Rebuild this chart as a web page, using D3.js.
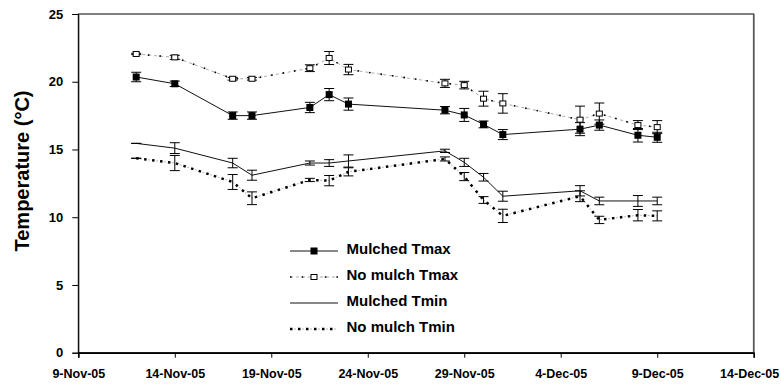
<!DOCTYPE html>
<html>
<head>
<meta charset="utf-8">
<script src="https://cdn.jsdelivr.net/npm/d3@7"></script>
<style>
  body { margin: 0; background: #fff; }
  text { font-family: "Liberation Sans", Arial, sans-serif; font-weight: bold; fill: #000; }
</style>
</head>
<body>
<div id="chart"></div>
<script>
// dates of readings
var dates = ["12-Nov-05","14-Nov-05","17-Nov-05","18-Nov-05","21-Nov-05","22-Nov-05","23-Nov-05",
  "28-Nov-05","29-Nov-05","30-Nov-05","1-Dec-05","5-Dec-05","6-Dec-05","8-Dec-05","9-Dec-05"]

var mulchedTmax    = [20.35, 19.85, 17.5, 17.5, 18.1, 19.05, 18.35, 17.9, 17.55, 16.85, 16.1, 16.5, 16.8, 16.05, 15.9]
var mulchedTmaxErr = [0.35, 0.2, 0.27, 0.27, 0.38, 0.45, 0.45, 0.27, 0.48, 0.25, 0.37, 0.48, 0.38, 0.5, 0.37]

var noMulchTmax    = [22.05, 21.8, 20.22, 20.22, 21.0, 21.75, 20.9, 19.88, 19.75, 18.75, 18.4, 17.2, 17.65, 16.8, 16.65]
var noMulchTmaxErr = [0.05, 0.15, 0.1, 0.1, 0.25, 0.48, 0.38, 0.3, 0.28, 0.55, 0.72, 1.0, 0.78, 0.33, 0.48]

var mulchedTmin    = [15.45, 15.1, 14.0, 13.1, 14.0, 14.0, 14.15, 14.9, 14.05, 12.95, 11.55, 11.95, 11.2, 11.2, 11.2]
var mulchedTminErr = [0, 0.4, 0.35, 0.37, 0.15, 0.25, 0.45, 0.12, 0.3, 0.28, 0.37, 0.38, 0.28, 0.4, 0.28]

var noMulchTmin    = [14.35, 14.0, 12.6, 11.4, 12.75, 12.7, 13.35, 14.3, 13.0, 11.27, 10.1, 11.55, 9.8, 10.15, 10.1]
var noMulchTminErr = [0, 0.56, 0.55, 0.47, 0.12, 0.38, 0.3, 0.15, 0.3, 0.25, 0.49, 0.4, 0.27, 0.42, 0.37]

var xTickLabels = ["9-Nov-05","14-Nov-05","19-Nov-05","24-Nov-05","29-Nov-05","4-Dec-05","9-Dec-05","14-Dec-05"]
var yTicks = [0, 5, 10, 15, 20, 25]

var legendNames = ["Mulched Tmax", "No mulch Tmax", "Mulched Tmin", "No mulch Tmin"]

var parse = d3.timeParse("%d-%b-%y")

var width = 781
var height = 385
var margin = {top: 14, bottom: 32.3, left: 78.3, right: 27.3}

var svg = d3.select("#chart").append("svg")
  .attr("width", width)
  .attr("height", height)

var x = d3.scaleTime()
  .domain([parse(xTickLabels[0]), parse(xTickLabels[xTickLabels.length - 1])])
  .range([margin.left, width - margin.right])

var y = d3.scaleLinear()
  .domain([0, 25])
  .range([height - margin.bottom, margin.top])

// plot frame
svg.append("rect")
  .attr("x", x.range()[0])
  .attr("y", y(25))
  .attr("width", x.range()[1] - x.range()[0])
  .attr("height", y(0) - y(25))
  .attr("fill", "none")
  .attr("stroke", "#000")
  .attr("stroke-width", 1)
// right edge is a bit heavier / greyer
svg.append("line")
  .attr("x1", x.range()[1]).attr("x2", x.range()[1])
  .attr("y1", y(25)).attr("y2", y(0))
  .attr("stroke", "#555").attr("stroke-width", 1.6)

function makeSeries(vals, errs) {
  return dates.map(function(d, i) { return {date: parse(d), v: vals[i], e: errs[i]} })
}

var series = [
  {name: legendNames[0], data: makeSeries(mulchedTmax, mulchedTmaxErr), style: "solid", marker: "filled"},
  {name: legendNames[1], data: makeSeries(noMulchTmax, noMulchTmaxErr), style: "dotThin", marker: "open"},
  {name: legendNames[2], data: makeSeries(mulchedTmin, mulchedTminErr), style: "solid", marker: null},
  {name: legendNames[3], data: makeSeries(noMulchTmin, noMulchTminErr), style: "dotThick", marker: null}
]

var line = d3.line().x(d => x(d.date)).y(d => y(d.v))

function drawLine(g, path, style) {
  if (style == "solid") {
    g.append("path").attr("d", path).attr("fill", "none").attr("stroke", "#111").attr("stroke-width", 1)
  } else if (style == "dotThin") {
    g.append("path").attr("d", path).attr("fill", "none").attr("stroke", "#aaa").attr("stroke-width", 1)
      .attr("stroke-dasharray", "3,3")
    g.append("path").attr("d", path).attr("fill", "none").attr("stroke", "#000").attr("stroke-width", 1.6)
      .attr("stroke-dasharray", "1.6,10")
  } else {
    g.append("path").attr("d", path).attr("fill", "none").attr("stroke", "#bbb").attr("stroke-width", 1)
      .attr("stroke-dasharray", "2,2")
    g.append("path").attr("d", path).attr("fill", "none").attr("stroke", "#000").attr("stroke-width", 2.5)
      .attr("stroke-dasharray", "2.5,5.5")
  }
}

function drawMarker(g, cx, cy, type) {
  if (type == "filled") {
    g.append("rect").attr("x", cx - 3.5).attr("y", cy - 3.5).attr("width", 7).attr("height", 7).attr("fill", "#000")
  } else if (type == "open") {
    g.append("rect").attr("x", cx - 3).attr("y", cy - 2.5).attr("width", 6).attr("height", 5)
      .attr("fill", "#fff").attr("stroke", "#000").attr("stroke-width", 1)
  }
}

series.forEach(function(s) {
  var g = svg.append("g")
  drawLine(g, line(s.data), s.style)

  // error bars
  var eb = g.append("g").attr("stroke", "#000").attr("stroke-width", 1)
  s.data.forEach(function(d) {
    var px = x(d.date)
    eb.append("line").attr("x1", px).attr("x2", px).attr("y1", y(d.v + d.e)).attr("y2", y(d.v - d.e))
    eb.append("line").attr("x1", px - 5).attr("x2", px + 5).attr("y1", y(d.v + d.e)).attr("y2", y(d.v + d.e))
    eb.append("line").attr("x1", px - 5).attr("x2", px + 5).attr("y1", y(d.v - d.e)).attr("y2", y(d.v - d.e))
  })

  s.data.forEach(function(d) { drawMarker(g, x(d.date), y(d.v), s.marker) })
})

// axes
var xAxisG = svg.append("g")
  .attr("transform", `translate(0, ${y(0)})`)
  .call(d3.axisBottom(x).tickValues(xTickLabels.map(parse)).tickFormat(d3.timeFormat("%-d-%b-%y"))
    .tickSize(5).tickPadding(11))
xAxisG.select(".domain").attr("stroke-width", 1.5)
xAxisG.selectAll("text").attr("font-size", "12.5px").attr("font-family", null)
// last label would run off the page, pull it back like the original
xAxisG.selectAll(".tick:last-of-type text").attr("text-anchor", "end").attr("x", 25)

svg.append("g")
  .attr("transform", `translate(${margin.left}, 0)`)
  .call(d3.axisLeft(y).tickValues(yTicks).tickSize(6).tickPadding(9))
  .selectAll("text").attr("font-size", "13px").attr("font-family", null)

svg.append("text")
  .attr("transform", "translate(29,171) rotate(-90)")
  .attr("text-anchor", "middle")
  .attr("font-size", "20px")
  .text("Temperature (°C)")

// legend
var legend = svg.append("g")
series.forEach(function(s, i) {
  var base = 253.5 + i * 26
  var ly = base - 2.5
  var g = legend.append("g")
  drawLine(g, "M290," + ly + "L338," + ly, s.style)
  drawMarker(g, 314, ly, s.marker)
  g.append("text").attr("x", 346.5).attr("y", base).attr("font-size", "15px").text(s.name)
})
</script>
</body>
</html>
